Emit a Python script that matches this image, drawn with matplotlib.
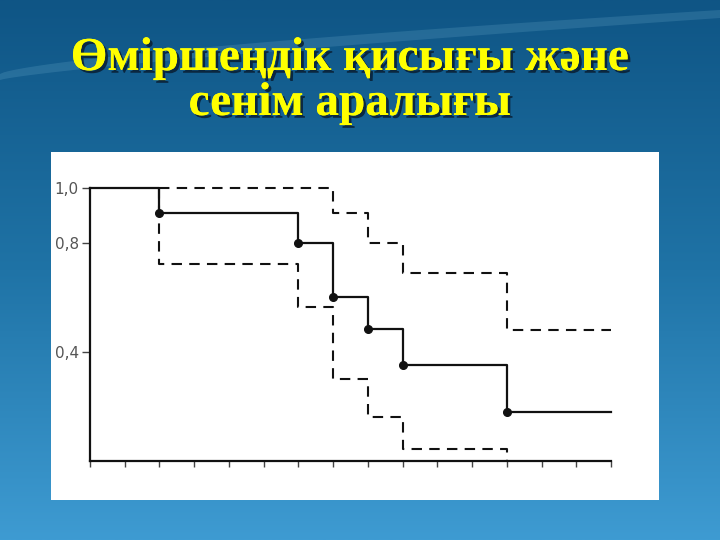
import numpy as np
import matplotlib.pyplot as plt
import matplotlib.patheffects as pe
from matplotlib.colors import LinearSegmentedColormap

# --- data --- #
title_lines = ['Өміршеңдік қисығы және', 'сенім аралығы']

surv_t    = [0, 2, 6, 7, 8, 9, 12, 15]
surv_p    = [1.0, 0.91, 0.80, 0.60, 0.485, 0.35, 0.18, 0.18]
event_t   = [2, 6, 7, 8, 9, 12]
event_p   = [0.91, 0.80, 0.60, 0.485, 0.35, 0.18]

upper_t   = [2, 7, 8, 9, 12, 15]
upper_p   = [1.0, 0.91, 0.80, 0.69, 0.48, 0.48]
lower_t   = [2, 2, 6, 7, 8, 9, 12]
lower_p   = [1.0, 0.72, 0.565, 0.30, 0.16, 0.045, 0.0]

y_ticks   = [0.4, 0.8, 1.0]
y_labels  = ['0,4', '0,8', '1,0']
x_ticks   = list(range(16))

W, H = 720, 540
fig = plt.figure(figsize=(7.2, 5.4), dpi=100)

# --- slide background --- #
bg = fig.add_axes([0, 0, 1, 1])
bg_cmap = LinearSegmentedColormap.from_list('slide', ['#0f5585', '#1f73a6', '#3e9bd2'])
grad = np.linspace(0, 1, 256).reshape(-1, 1)
bg.imshow(grad, cmap=bg_cmap, aspect='auto', extent=[0, W, H, 0])
xs = np.linspace(0, W, 200)
bg.fill_between(xs, 80 - 62 * (xs / W) ** 0.8, 74 - 64 * (xs / W) ** 0.7,
                color='#9fd8f0', alpha=0.15, lw=0)
bg.set_xlim(0, W)
bg.set_ylim(H, 0)
bg.axis('off')

# white picture box
box = fig.add_axes([51 / W, 1 - 500 / H, (659 - 51) / W, (500 - 152) / H])
box.set_facecolor('white')
box.set_xticks([])
box.set_yticks([])
for s in box.spines.values():
    s.set_visible(False)

# --- title --- #
shadow = [pe.withSimplePatchShadow(offset=(2, -2), shadow_rgbFace='#0a2238', alpha=0.9), pe.Normal()]
for txt, base in zip(title_lines, [70, 115]):
    fig.text(350 / W, 1 - base / H, txt, ha='center', va='baseline',
             fontsize=34, fontweight='bold', family='Liberation Serif',
             color='#ffff00', path_effects=shadow)

# --- survival plot --- #
ax = fig.add_axes([90 / W, 1 - 461 / H, (611 - 90) / W, (461 - 188) / H])
ax.patch.set_alpha(0)
ax.step(surv_t, surv_p, where='post', color='#111111', lw=1.6, clip_on=False)
ax.plot(event_t, event_p, 'o', color='#111111', ms=5.5, clip_on=False)
ax.step(upper_t, upper_p, where='post', color='#111111', lw=1.5,
        dashes=(5, 3.5), clip_on=False)
ax.step(lower_t, lower_p, where='post', color='#111111', lw=1.5,
        dashes=(5, 3.5), clip_on=False)

ax.set_xlim(0, 15)
ax.set_ylim(0, 1.0)
for side in ['top', 'right']:
    ax.spines[side].set_visible(False)
for side in ['left', 'bottom']:
    ax.spines[side].set_color('#111111')
    ax.spines[side].set_linewidth(1.6)
ax.set_xticks(x_ticks)
ax.set_xticklabels([])
ax.set_yticks(y_ticks)
ax.set_yticklabels(y_labels)
ax.tick_params(axis='x', direction='out', length=4, width=1, color='#444444')
ax.tick_params(axis='y', direction='out', length=6, width=1, color='#444444',
               labelsize=11, labelcolor='#555555', pad=2)

fig.savefig('out.png', dpi=100)
